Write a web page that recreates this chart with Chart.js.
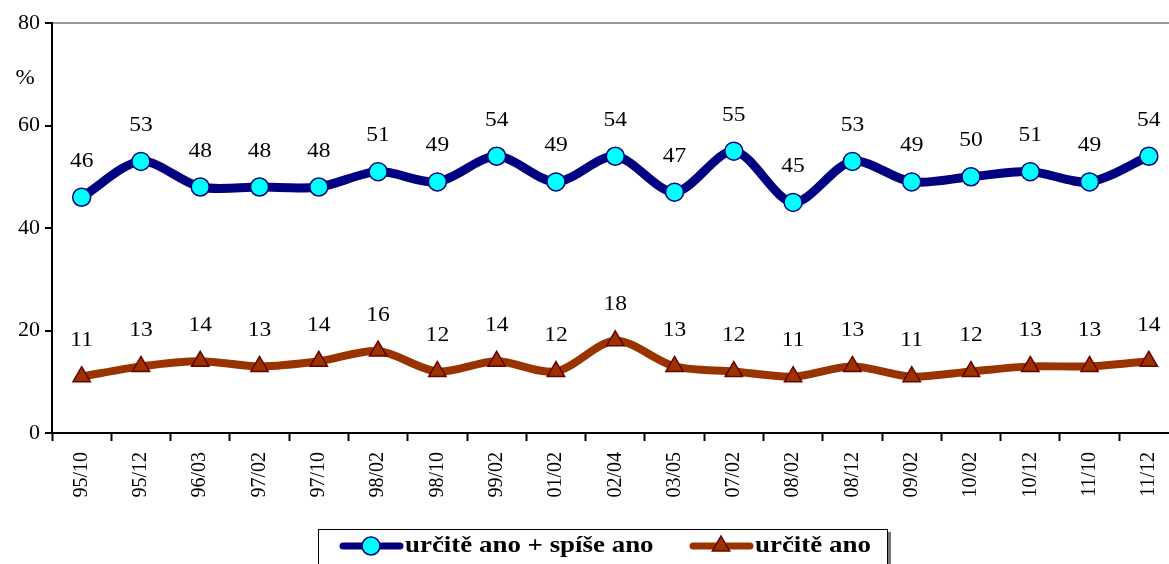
<!DOCTYPE html>
<html lang="cs">
<head>
  <meta charset="UTF-8" />
  <title>určitě ano + spíše ano / určitě ano</title>
  <script src="https://cdn.jsdelivr.net/npm/chart.js@4.4.0/dist/chart.umd.min.js"></script>
  <style>
    body {
      margin: 0;
      background: #fff;
      overflow: hidden;
    }
    #wrap {
      width: 1190px;
      height: 564px;
    }
  </style>
</head>
<body>
  <div id="wrap">
    <canvas id="chart" width="1190" height="564"></canvas>
  </div>

  <script>
    const labels = ['95/10', '95/12', '96/03', '97/02', '97/10', '98/02', '98/10', '99/02', '01/02', '02/04',
                    '03/05', '07/02', '08/02', '08/12', '09/02', '10/02', '10/12', '11/10', '11/12'];
    const anoSpiseAno = [46, 53, 48, 48, 48, 51, 49, 54, 49, 54, 47, 55, 45, 53, 49, 50, 51, 49, 54];
    const urciteAno = [11, 13, 14, 13, 14, 16, 12, 14, 12, 18, 13, 12, 11, 13, 11, 12, 13, 13, 14];
    const yTicks = [0, 20, 40, 60, 80];

    const serif = '"Liberation Serif", "Times New Roman", serif';

    // text a little wider than the font, like the original
    function wideText(ctx, text, x, y, sx) {
      ctx.save();
      ctx.translate(x, y);
      ctx.scale(sx, 1);
      ctx.fillText(text, 0, 0);
      ctx.restore();
    }

    // numbers above each point + the "%" label
    const valueLabels = {
      id: 'valueLabels',
      afterDatasetsDraw(chart) {
        const ctx = chart.ctx;
        ctx.save();
        ctx.font = '21px ' + serif;
        ctx.fillStyle = '#000';
        ctx.textAlign = 'center';
        ctx.textBaseline = 'middle';
        chart.data.datasets.forEach((ds, i) => {
          chart.getDatasetMeta(i).data.forEach((pt, j) => {
            wideText(ctx, String(ds.data[j]), pt.x, pt.y - 36, 1.12);
          });
        });
        wideText(ctx, '%', 25, 78, 1.1);
        ctx.restore();
      }
    };

    // boxed legend at the bottom
    const boxLegend = {
      id: 'boxLegend',
      afterDraw(chart) {
        const ctx = chart.ctx;
        const y = 546;
        ctx.save();
        ctx.fillStyle = '#777';
        ctx.fillRect(321, 532, 570, 40);
        ctx.fillStyle = '#fff';
        ctx.fillRect(318, 529, 570, 40);
        ctx.strokeStyle = '#000';
        ctx.lineWidth = 1;
        ctx.strokeRect(318.5, 529.5, 569, 40);

        const items = [
          { x: 340, ds: chart.data.datasets[0] },
          { x: 690, ds: chart.data.datasets[1] }
        ];
        items.forEach(it => {
          ctx.strokeStyle = it.ds.borderColor;
          ctx.lineWidth = 7;
          ctx.lineCap = 'round';
          ctx.beginPath();
          ctx.moveTo(it.x + 3, y);
          ctx.lineTo(it.x + 60, y);
          ctx.stroke();
          ctx.fillStyle = it.ds.pointBackgroundColor;
          ctx.strokeStyle = it.ds.pointBorderColor;
          ctx.lineWidth = 1.5;
          const cx = it.x + 31;
          const r = it.ds.pointRadius;
          ctx.beginPath();
          if (it.ds.pointStyle === 'triangle') {
            ctx.moveTo(cx, y - r);
            ctx.lineTo(cx + r * 0.866, y + r * 0.5);
            ctx.lineTo(cx - r * 0.866, y + r * 0.5);
            ctx.closePath();
          } else {
            ctx.arc(cx, y, r, 0, Math.PI * 2);
          }
          ctx.fill();
          ctx.stroke();
          ctx.fillStyle = '#000';
          ctx.font = 'bold 23px ' + serif;
          ctx.textAlign = 'left';
          ctx.textBaseline = 'middle';
          wideText(ctx, it.ds.label, it.x + 65, y, 1.17);
        });
        ctx.restore();
      }
    };

    new Chart(document.getElementById('chart'), {
      type: 'line',
      data: {
        labels: labels,
        datasets: [
          {
            label: 'určitě ano + spíše ano',
            data: anoSpiseAno,
            borderColor: '#000080',
            borderWidth: 9,
            tension: 0.3,
            pointStyle: 'circle',
            pointRadius: 9,
            pointBackgroundColor: '#00ffff',
            pointBorderColor: '#000080',
            pointBorderWidth: 1.5
          },
          {
            label: 'určitě ano',
            data: urciteAno,
            borderColor: '#993300',
            borderWidth: 8,
            tension: 0.3,
            pointStyle: 'triangle',
            pointRadius: 10,
            pointBackgroundColor: '#993300',
            pointBorderColor: '#6b0000',
            pointBorderWidth: 1.5
          }
        ]
      },
      options: {
        responsive: false,
        animation: false,
        layout: { padding: { top: 23, right: 0, left: 0, bottom: 0 } },
        plugins: {
          legend: { display: false },
          tooltip: { enabled: false }
        },
        scales: {
          x: {
            offset: true,
            grid: {
              offset: true,
              drawOnChartArea: false,
              tickLength: 8,
              tickColor: '#000',
              tickWidth: 2
            },
            border: { color: '#000', width: 2 },
            ticks: {
              color: '#000',
              font: { family: serif, size: 20 },
              minRotation: 90,
              maxRotation: 90,
              padding: 11
            },
            afterFit(scale) { scale.height = 131; }
          },
          y: {
            min: 0,
            max: 80,
            afterBuildTicks(scale) { scale.ticks = yTicks.map(v => ({ value: v })); },
            grid: {
              color: c => (c.tick && c.tick.value === 80 ? '#9a9a9a' : 'rgba(0,0,0,0)'),
              lineWidth: 2,
              tickLength: 7,
              tickColor: '#000',
              tickWidth: 2
            },
            border: { color: '#000', width: 2 },
            ticks: {
              color: '#000',
              font: { family: serif, size: 22 },
              padding: 5
            },
            afterFit(scale) { scale.width = 52; }
          }
        }
      },
      plugins: [valueLabels, boxLegend]
    });
  </script>
</body>
</html>
